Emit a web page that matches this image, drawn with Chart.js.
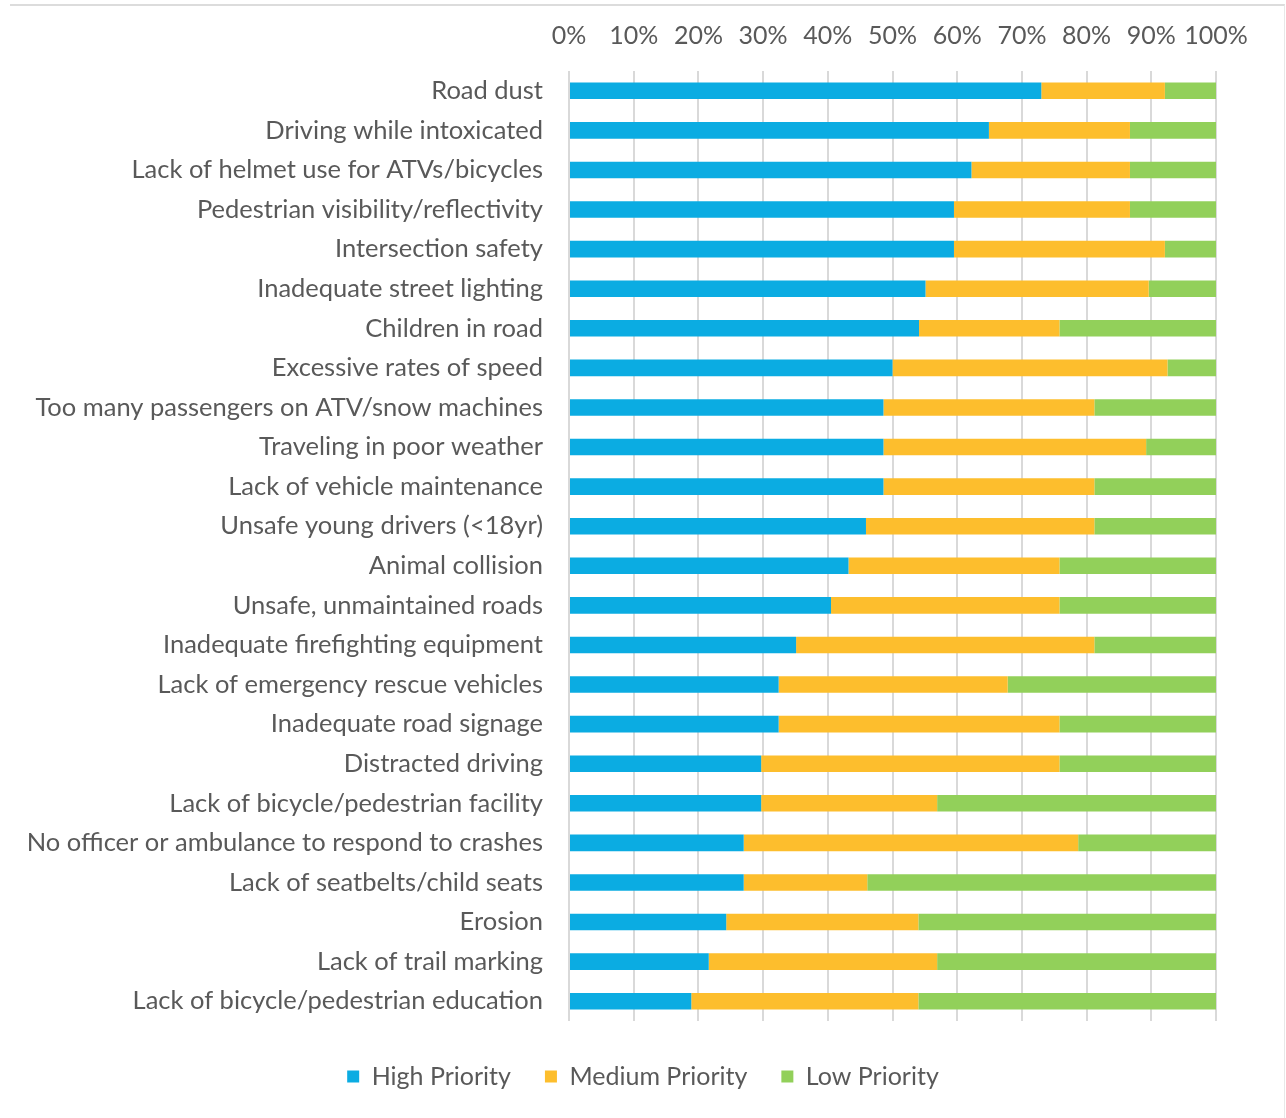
<!DOCTYPE html>
<html>
<head>
<meta charset="utf-8">
<title>Transportation safety priorities</title>
<script src="https://cdn.jsdelivr.net/npm/chart.js@4.4.1/dist/chart.umd.min.js"></script>
<style>
    html, body { margin: 0; padding: 0; background: #fff; overflow: hidden; }
    #wrap { position: absolute; left: 0; top: 0; width: 1286px; height: 1118px; }
    #frame { position: absolute; left: 10px; top: 4px; width: 1274px; height: 1114px;
             border-top: 2px solid #dcdcdc; border-right: 1px solid #e8e8e8; pointer-events: none; }
</style>
</head>
<body>
<div id="wrap"><canvas id="priorities"></canvas></div>
<div id="frame"></div>
<script>
"use strict";

var categories = [
    'Road dust',
    'Driving while intoxicated',
    'Lack of helmet use for ATVs/bicycles',
    'Pedestrian visibility/reflectivity',
    'Intersection safety',
    'Inadequate street lighting',
    'Children in road',
    'Excessive rates of speed',
    'Too many passengers on ATV/snow machines',
    'Traveling in poor weather',
    'Lack of vehicle maintenance',
    'Unsafe young drivers (<18yr)',
    'Animal collision',
    'Unsafe, unmaintained roads',
    'Inadequate firefighting equipment',
    'Lack of emergency rescue vehicles',
    'Inadequate road signage',
    'Distracted driving',
    'Lack of bicycle/pedestrian facility',
    'No officer or ambulance to respond to crashes',
    'Lack of seatbelts/child seats',
    'Erosion',
    'Lack of trail marking',
    'Lack of bicycle/pedestrian education'
];

// percent of responses
var highPriority = [73.0, 64.9, 62.2, 59.5, 59.5, 55.1, 54.1, 50.0, 48.6, 48.6, 48.6, 45.9,
                    43.2, 40.5, 35.1, 32.4, 32.4, 29.7, 29.7, 27.0, 27.0, 24.3, 21.6, 18.9];
var mediumPriority = [19.1, 21.8, 24.5, 27.2, 32.6, 34.5, 21.7, 42.5, 32.6, 40.6, 32.6, 35.3,
                      32.6, 35.3, 46.1, 35.4, 43.4, 46.1, 27.2, 51.7, 19.1, 29.7, 35.3, 35.1];
var lowPriority = [7.9, 13.3, 13.3, 13.3, 7.9, 10.4, 24.2, 7.5, 18.8, 10.8, 18.8, 18.8,
                   24.2, 24.2, 18.8, 32.2, 24.2, 24.2, 43.1, 21.3, 53.9, 46.0, 43.1, 46.0];

var xTicks = [0, 10, 20, 30, 40, 50, 60, 70, 80, 90, 100];

var textColor = '#595959';
var fontFamily = "Lato, 'Open Sans', sans-serif";

document.addEventListener("DOMContentLoaded", function () {
    var ctx = document.getElementById('priorities').getContext('2d');

    var barOpts = { barPercentage: 0.42, categoryPercentage: 1.0, borderWidth: 0 };

    var priorityConfig = {
        type: 'bar',
        data: {
            labels: categories,
            datasets: [
                Object.assign({ label: 'High Priority', data: highPriority, backgroundColor: '#0bace2' }, barOpts),
                Object.assign({ label: 'Medium Priority', data: mediumPriority, backgroundColor: '#fdbe2d' }, barOpts),
                Object.assign({ label: 'Low Priority', data: lowPriority, backgroundColor: '#92d05a' }, barOpts)
            ]
        },
        options: {
            indexAxis: 'y',
            animation: false,
            responsive: true,
            maintainAspectRatio: false,
            layout: {
                padding: { top: 0, left: 0, right: 0, bottom: 19 }
            },
            plugins: {
                legend: {
                    display: true,
                    position: 'bottom',
                    title: { display: true, text: '', padding: 0, font: { size: 7.5 } },
                    labels: {
                        boxWidth: 12,
                        boxHeight: 12,
                        padding: 34,
                        color: textColor,
                        font: { family: fontFamily, size: 25 }
                    }
                },
                tooltip: { enabled: false }
            },
            scales: {
                x: {
                    position: 'top',
                    stacked: true,
                    min: 0,
                    max: 100,
                    afterBuildTicks: function (scale) {
                        scale.ticks = xTicks.map(function (v) { return { value: v }; });
                    },
                    afterFit: function (scale) {
                        scale.height = 71;
                    },
                    grid: {
                        color: '#d9d9d9',
                        lineWidth: 2,
                        drawTicks: false
                    },
                    border: { display: false },
                    ticks: {
                        padding: 20,
                        color: textColor,
                        autoSkip: false,
                        maxRotation: 0,
                        minRotation: 0,
                        font: { family: fontFamily, size: 25 },
                        callback: function (v) { return v + '%'; }
                    }
                },
                y: {
                    stacked: true,
                    afterFit: function (scale) {
                        scale.width = 569;
                    },
                    grid: { display: false, drawTicks: false },
                    border: { display: false },
                    ticks: {
                        padding: 26,
                        color: textColor,
                        autoSkip: false,
                        font: { family: fontFamily, size: 25.5 }
                    }
                },
                // empty right margin, so the legend stays centred on the page
                yRight: {
                    axis: 'y',
                    type: 'category',
                    position: 'right',
                    afterFit: function (scale) {
                        scale.width = 70;
                    },
                    grid: { display: false, drawTicks: false },
                    border: { display: false },
                    ticks: { display: false }
                }
            }
        }
    };

    new Chart(ctx, priorityConfig);
});
</script>
</body>
</html>
